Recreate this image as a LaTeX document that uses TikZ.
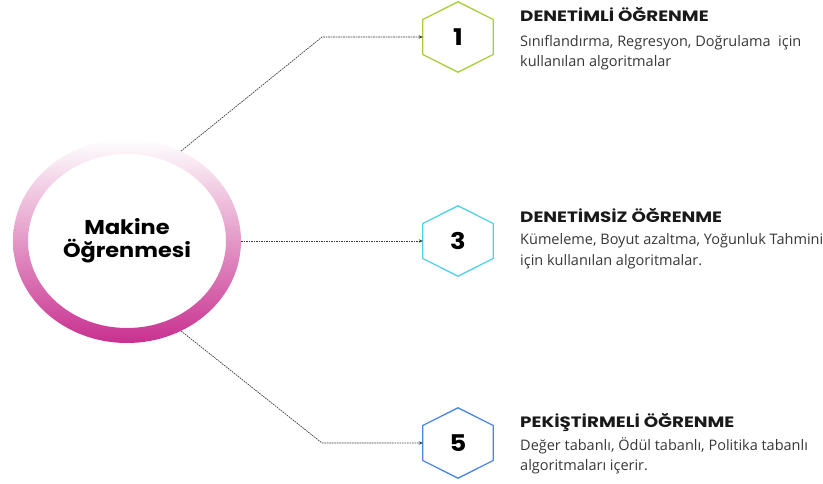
\documentclass[tikz,border=0pt]{standalone}
\usepackage{fontspec}
\setmainfont{Open Sans}
\newfontfamily\headfont{Poppins}[FakeStretch=1.12]
\newfontfamily\titlefont{Poppins}[FakeStretch=1.22]
\usetikzlibrary{arrows.meta,shapes.geometric}

\definecolor{ringpink}{RGB}{200,48,143}
\definecolor{hexgreen}{RGB}{166,205,58}
\definecolor{hexcyan}{RGB}{78,210,228}
\definecolor{hexblue}{RGB}{74,134,226}
\definecolor{linkgray}{RGB}{60,60,60}
\definecolor{bodygray}{RGB}{55,55,55}

\tikzset{
  hexnum/.style={minimum width=70pt,minimum height=70pt,inner sep=0pt,
    font=\headfont\bfseries\fontsize{23}{23}\selectfont},
  title/.style={anchor=base west,inner sep=0pt,text=black!90,
    font=\titlefont\bfseries\fontsize{15}{15}\selectfont},
  body/.style={anchor=base west,inner sep=0pt,align=left,text=bodygray,
    font=\fontsize{14.5}{20}\selectfont},
  link/.style={linkgray,line width=0.7pt,dash pattern=on 1.6pt off 0.9pt,
    -{Stealth[length=4pt,width=3.5pt]}}
}

\begin{document}
\begin{tikzpicture}[x=1pt,y=1pt]
\useasboundingbox (0,0) rectangle (823,483);
% -- central ring
\node[ellipse,minimum width=228pt,minimum height=204pt,inner sep=0pt,align=center,
  font=\headfont\bfseries\fontsize{20}{23}\selectfont] (ml) at (127,242) {Makine\\Öğrenmesi};
\shade[top color=white,bottom color=ringpink,even odd rule]
  (ml.center) ellipse (114 and 102) (ml.center) ellipse (99 and 87);
% -- hexagons
\foreach \n/\y/\c in {1/446/hexgreen,3/242/hexcyan,5/40/hexblue}{
  \node[hexnum] (h\n) at (458,\y) {\n};
  \draw[\c,line width=1.3pt,line join=round] (h\n.north) -- ([yshift=17.5pt]h\n.east)
    -- ([yshift=-17.5pt]h\n.east) -- (h\n.south) -- ([yshift=-17.5pt]h\n.west)
    -- ([yshift=17.5pt]h\n.west) -- cycle;
}
% -- bends
\coordinate (b1) at (322,446);
\coordinate (b5) at (322,40);
% -- draw lines
\draw[link] (ml.59) -- (b1) -- (h1.west);
\draw[link] (ml.east) -- (h3.west);
\draw[link] (ml.-59) -- (b5) -- (h5.west);
% -- texts (body base = last line)
\node[title] (t1) at (520,461) {DENETİMLİ ÖĞRENME};
\node[body] (d1) at (520,416) {Sınıflandırma, Regresyon, Doğrulama~ için\\kullanılan algoritmalar};
\node[title] (t3) at (520,260) {DENETİMSİZ ÖĞRENME};
\node[body] (d3) at (520,218) {Kümeleme, Boyut azaltma, Yoğunluk Tahmini\\için kullanılan algoritmalar.};
\node[title] (t5) at (520,56) {PEKİŞTİRMELİ ÖĞRENME};
\node[body] (d5) at (520,13) {Değer tabanlı, Ödül tabanlı, Politika tabanlı\\algoritmaları içerir.};
\end{tikzpicture}
\end{document}
